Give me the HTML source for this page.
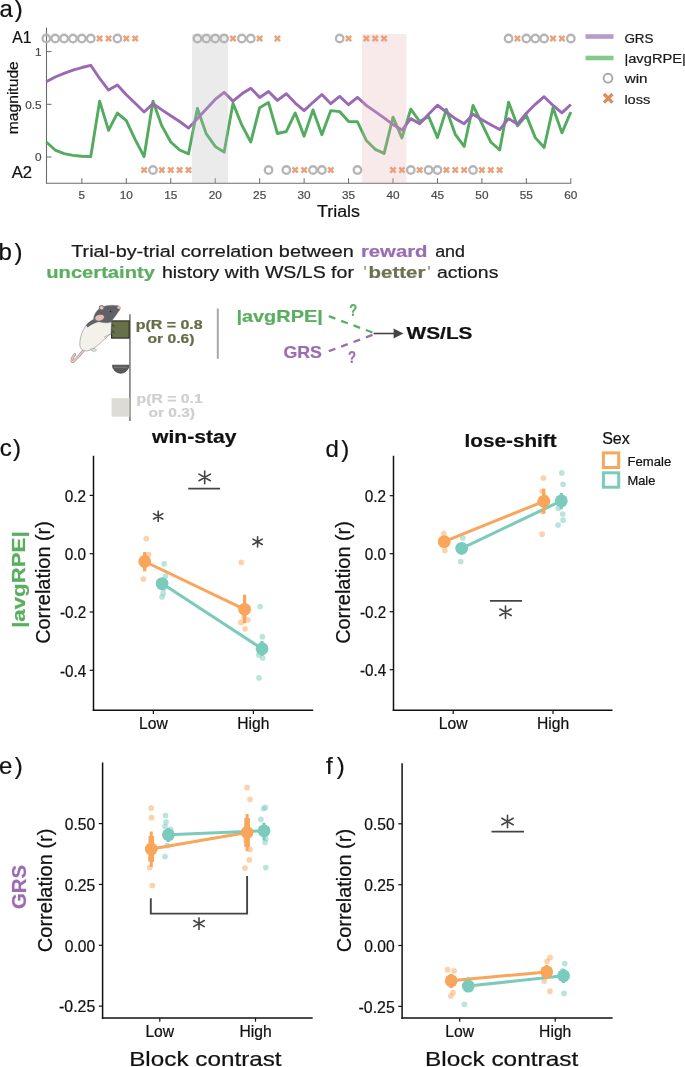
<!DOCTYPE html><html><head><meta charset="utf-8"><title>Figure</title><style>html,body{margin:0;padding:0;background:#fff;}svg{display:block;font-family:"Liberation Sans",sans-serif;filter:blur(0.4px);}</style></head><body>
<svg width="685" height="1067" viewBox="0 0 685 1067">
<rect x="0" y="0" width="685" height="1067" fill="#ffffff"/>
<line x1="46.5" y1="27.5" x2="46.5" y2="183.7" stroke="#6b6b6b" stroke-width="1.1"/>
<line x1="46" y1="183.2" x2="571.3" y2="183.2" stroke="#6b6b6b" stroke-width="1.1"/>
<line x1="46.5" y1="51.6" x2="51.5" y2="51.6" stroke="#6b6b6b" stroke-width="1"/>
<text x="41.6" y="56" font-size="11.8" fill="#4a4a4a" text-anchor="end" stroke="#4a4a4a" stroke-width="0.22">1</text>
<line x1="46.5" y1="104.3" x2="51.5" y2="104.3" stroke="#6b6b6b" stroke-width="1"/>
<text x="41.6" y="108.7" font-size="11.8" fill="#4a4a4a" text-anchor="end" stroke="#4a4a4a" stroke-width="0.22">0.5</text>
<line x1="46.5" y1="157" x2="51.5" y2="157" stroke="#6b6b6b" stroke-width="1"/>
<text x="41.6" y="161.4" font-size="11.8" fill="#4a4a4a" text-anchor="end" stroke="#4a4a4a" stroke-width="0.22">0</text>
<line x1="81.86" y1="183.2" x2="81.86" y2="178.2" stroke="#6b6b6b" stroke-width="1"/>
<text x="81.86" y="199" font-size="11.8" fill="#4a4a4a" text-anchor="middle" stroke="#4a4a4a" stroke-width="0.22">5</text>
<line x1="126.31" y1="183.2" x2="126.31" y2="178.2" stroke="#6b6b6b" stroke-width="1"/>
<text x="126.31" y="199" font-size="11.8" fill="#4a4a4a" text-anchor="middle" stroke="#4a4a4a" stroke-width="0.22">10</text>
<line x1="170.76" y1="183.2" x2="170.76" y2="178.2" stroke="#6b6b6b" stroke-width="1"/>
<text x="170.76" y="199" font-size="11.8" fill="#4a4a4a" text-anchor="middle" stroke="#4a4a4a" stroke-width="0.22">15</text>
<line x1="215.21" y1="183.2" x2="215.21" y2="178.2" stroke="#6b6b6b" stroke-width="1"/>
<text x="215.21" y="199" font-size="11.8" fill="#4a4a4a" text-anchor="middle" stroke="#4a4a4a" stroke-width="0.22">20</text>
<line x1="259.66" y1="183.2" x2="259.66" y2="178.2" stroke="#6b6b6b" stroke-width="1"/>
<text x="259.66" y="199" font-size="11.8" fill="#4a4a4a" text-anchor="middle" stroke="#4a4a4a" stroke-width="0.22">25</text>
<line x1="304.11" y1="183.2" x2="304.11" y2="178.2" stroke="#6b6b6b" stroke-width="1"/>
<text x="304.11" y="199" font-size="11.8" fill="#4a4a4a" text-anchor="middle" stroke="#4a4a4a" stroke-width="0.22">30</text>
<line x1="348.56" y1="183.2" x2="348.56" y2="178.2" stroke="#6b6b6b" stroke-width="1"/>
<text x="348.56" y="199" font-size="11.8" fill="#4a4a4a" text-anchor="middle" stroke="#4a4a4a" stroke-width="0.22">35</text>
<line x1="393.01" y1="183.2" x2="393.01" y2="178.2" stroke="#6b6b6b" stroke-width="1"/>
<text x="393.01" y="199" font-size="11.8" fill="#4a4a4a" text-anchor="middle" stroke="#4a4a4a" stroke-width="0.22">40</text>
<line x1="437.46" y1="183.2" x2="437.46" y2="178.2" stroke="#6b6b6b" stroke-width="1"/>
<text x="437.46" y="199" font-size="11.8" fill="#4a4a4a" text-anchor="middle" stroke="#4a4a4a" stroke-width="0.22">45</text>
<line x1="481.91" y1="183.2" x2="481.91" y2="178.2" stroke="#6b6b6b" stroke-width="1"/>
<text x="481.91" y="199" font-size="11.8" fill="#4a4a4a" text-anchor="middle" stroke="#4a4a4a" stroke-width="0.22">50</text>
<line x1="526.36" y1="183.2" x2="526.36" y2="178.2" stroke="#6b6b6b" stroke-width="1"/>
<text x="526.36" y="199" font-size="11.8" fill="#4a4a4a" text-anchor="middle" stroke="#4a4a4a" stroke-width="0.22">55</text>
<line x1="570.81" y1="183.2" x2="570.81" y2="178.2" stroke="#6b6b6b" stroke-width="1"/>
<text x="570.81" y="199" font-size="11.8" fill="#4a4a4a" text-anchor="middle" stroke="#4a4a4a" stroke-width="0.22">60</text>
<polyline points="46.3,142.03 55.19,150.04 64.08,153.63 72.97,155.42 81.86,156.26 90.75,156.58 99.64,101.14 108.53,130.33 117.42,113.05 126.31,120.64 135.2,139.61 144.09,156.58 152.98,101.14 161.87,125.91 170.76,142.03 179.65,150.04 188.54,153.84 197.43,108.41 206.32,133.92 215.21,146.46 224.1,152.15 232.99,103.25 241.88,125.17 250.77,142.03 259.66,107.67 268.55,102.61 277.44,133.5 286.33,131.49 295.22,112.94 304.11,136.13 313,109.89 321.89,134.66 330.78,110.62 339.67,111.57 348.56,121.48 357.45,121.8 366.34,140.45 375.23,149.31 384.12,153.42 393.01,117.16 401.9,137.92 410.79,109.15 419.68,121.48 428.57,116.42 437.46,137.61 446.35,109.36 455.24,134.34 464.13,146.46 473.02,105.46 481.91,123.69 490.8,142.03 499.69,150.04 508.58,102.19 517.47,125.8 526.36,115.37 535.25,137.61 544.14,147.51 553.03,107.67 561.92,132.86 570.81,111.99" fill="none" stroke="#52ab5e" stroke-width="2.9" stroke-linejoin="round"/>
<polyline points="46.3,81.85 55.19,77 64.08,73.42 72.97,70.15 81.86,67.52 90.75,65.3 99.64,78.48 108.53,90.07 117.42,85.01 126.31,94.81 135.2,103.25 144.09,111.99 152.98,103.67 161.87,109.89 170.76,115.68 179.65,121.48 188.54,128.12 197.43,118.53 206.32,109.04 215.21,99.45 224.1,92.28 232.99,101.14 241.88,93.76 250.77,88.17 259.66,97.45 268.55,91.55 277.44,100.4 286.33,93.76 295.22,103.04 304.11,110.62 313,102.3 321.89,94.5 330.78,103.67 339.67,96.4 348.56,104.72 357.45,97.45 366.34,105.35 375.23,111.68 384.12,117.9 393.01,124.54 401.9,130.02 410.79,118.63 419.68,123.69 428.57,114.21 437.46,105.25 446.35,111.99 455.24,118.63 464.13,123.69 473.02,114.21 481.91,119.79 490.8,124.75 499.69,129.6 508.58,118.63 517.47,124.01 526.36,113.26 535.25,104.3 544.14,96.71 553.03,105.46 561.92,112.84 570.81,104.51" fill="none" stroke="#9a69b4" stroke-width="2.9" stroke-linejoin="round"/>
<rect x="192" y="34" width="36" height="149.2" fill="rgba(185,185,185,0.286)"/>
<rect x="361.9" y="34" width="44.45" height="149.2" fill="rgba(230,176,183,0.28)"/>
<circle cx="46.3" cy="38.5" r="3.75" fill="none" stroke="#b5b5b5" stroke-width="2.3"/>
<circle cx="55.19" cy="38.5" r="3.75" fill="none" stroke="#b5b5b5" stroke-width="2.3"/>
<circle cx="64.08" cy="38.5" r="3.75" fill="none" stroke="#b5b5b5" stroke-width="2.3"/>
<circle cx="72.97" cy="38.5" r="3.75" fill="none" stroke="#b5b5b5" stroke-width="2.3"/>
<circle cx="81.86" cy="38.5" r="3.75" fill="none" stroke="#b5b5b5" stroke-width="2.3"/>
<circle cx="90.75" cy="38.5" r="3.75" fill="none" stroke="#b5b5b5" stroke-width="2.3"/>
<path d="M96.99 35.85L102.29 41.15M96.99 41.15L102.29 35.85" stroke="#e8a27c" stroke-width="2.4" fill="none"/>
<path d="M105.88 35.85L111.18 41.15M105.88 41.15L111.18 35.85" stroke="#e8a27c" stroke-width="2.4" fill="none"/>
<circle cx="117.42" cy="38.5" r="3.75" fill="none" stroke="#b5b5b5" stroke-width="2.3"/>
<path d="M123.66 35.85L128.96 41.15M123.66 41.15L128.96 35.85" stroke="#e8a27c" stroke-width="2.4" fill="none"/>
<path d="M132.55 35.85L137.85 41.15M132.55 41.15L137.85 35.85" stroke="#e8a27c" stroke-width="2.4" fill="none"/>
<path d="M141.44 167.35L146.74 172.65M141.44 172.65L146.74 167.35" stroke="#e8a27c" stroke-width="2.4" fill="none"/>
<circle cx="152.98" cy="170" r="3.75" fill="none" stroke="#b5b5b5" stroke-width="2.3"/>
<path d="M159.22 167.35L164.52 172.65M159.22 172.65L164.52 167.35" stroke="#e8a27c" stroke-width="2.4" fill="none"/>
<path d="M168.11 167.35L173.41 172.65M168.11 172.65L173.41 167.35" stroke="#e8a27c" stroke-width="2.4" fill="none"/>
<path d="M177 167.35L182.3 172.65M177 172.65L182.3 167.35" stroke="#e8a27c" stroke-width="2.4" fill="none"/>
<path d="M185.89 167.35L191.19 172.65M185.89 172.65L191.19 167.35" stroke="#e8a27c" stroke-width="2.4" fill="none"/>
<circle cx="197.43" cy="38.5" r="3.75" fill="none" stroke="#b5b5b5" stroke-width="2.3"/>
<circle cx="206.32" cy="38.5" r="3.75" fill="none" stroke="#b5b5b5" stroke-width="2.3"/>
<circle cx="215.21" cy="38.5" r="3.75" fill="none" stroke="#b5b5b5" stroke-width="2.3"/>
<circle cx="224.1" cy="38.5" r="3.75" fill="none" stroke="#b5b5b5" stroke-width="2.3"/>
<path d="M230.34 35.85L235.64 41.15M230.34 41.15L235.64 35.85" stroke="#e8a27c" stroke-width="2.4" fill="none"/>
<circle cx="241.88" cy="38.5" r="3.75" fill="none" stroke="#b5b5b5" stroke-width="2.3"/>
<circle cx="250.77" cy="38.5" r="3.75" fill="none" stroke="#b5b5b5" stroke-width="2.3"/>
<path d="M257.01 35.85L262.31 41.15M257.01 41.15L262.31 35.85" stroke="#e8a27c" stroke-width="2.4" fill="none"/>
<circle cx="268.55" cy="170" r="3.75" fill="none" stroke="#b5b5b5" stroke-width="2.3"/>
<path d="M274.79 35.85L280.09 41.15M274.79 41.15L280.09 35.85" stroke="#e8a27c" stroke-width="2.4" fill="none"/>
<circle cx="286.33" cy="170" r="3.75" fill="none" stroke="#b5b5b5" stroke-width="2.3"/>
<path d="M292.57 167.35L297.87 172.65M292.57 172.65L297.87 167.35" stroke="#e8a27c" stroke-width="2.4" fill="none"/>
<path d="M301.46 167.35L306.76 172.65M301.46 172.65L306.76 167.35" stroke="#e8a27c" stroke-width="2.4" fill="none"/>
<circle cx="313" cy="170" r="3.75" fill="none" stroke="#b5b5b5" stroke-width="2.3"/>
<circle cx="321.89" cy="170" r="3.75" fill="none" stroke="#b5b5b5" stroke-width="2.3"/>
<path d="M328.13 167.35L333.43 172.65M328.13 172.65L333.43 167.35" stroke="#e8a27c" stroke-width="2.4" fill="none"/>
<circle cx="339.67" cy="38.5" r="3.75" fill="none" stroke="#b5b5b5" stroke-width="2.3"/>
<path d="M345.91 35.85L351.21 41.15M345.91 41.15L351.21 35.85" stroke="#e8a27c" stroke-width="2.4" fill="none"/>
<circle cx="357.45" cy="170" r="3.75" fill="none" stroke="#b5b5b5" stroke-width="2.3"/>
<path d="M363.69 35.85L368.99 41.15M363.69 41.15L368.99 35.85" stroke="#e8a27c" stroke-width="2.4" fill="none"/>
<path d="M372.58 35.85L377.88 41.15M372.58 41.15L377.88 35.85" stroke="#e8a27c" stroke-width="2.4" fill="none"/>
<path d="M381.47 35.85L386.77 41.15M381.47 41.15L386.77 35.85" stroke="#e8a27c" stroke-width="2.4" fill="none"/>
<path d="M390.36 167.35L395.66 172.65M390.36 172.65L395.66 167.35" stroke="#e8a27c" stroke-width="2.4" fill="none"/>
<path d="M399.25 167.35L404.55 172.65M399.25 172.65L404.55 167.35" stroke="#e8a27c" stroke-width="2.4" fill="none"/>
<circle cx="410.79" cy="170" r="3.75" fill="none" stroke="#b5b5b5" stroke-width="2.3"/>
<path d="M417.03 167.35L422.33 172.65M417.03 172.65L422.33 167.35" stroke="#e8a27c" stroke-width="2.4" fill="none"/>
<circle cx="428.57" cy="170" r="3.75" fill="none" stroke="#b5b5b5" stroke-width="2.3"/>
<circle cx="437.46" cy="170" r="3.75" fill="none" stroke="#b5b5b5" stroke-width="2.3"/>
<path d="M443.7 167.35L449 172.65M443.7 172.65L449 167.35" stroke="#e8a27c" stroke-width="2.4" fill="none"/>
<path d="M452.59 167.35L457.89 172.65M452.59 172.65L457.89 167.35" stroke="#e8a27c" stroke-width="2.4" fill="none"/>
<path d="M461.48 167.35L466.78 172.65M461.48 172.65L466.78 167.35" stroke="#e8a27c" stroke-width="2.4" fill="none"/>
<circle cx="473.02" cy="170" r="3.75" fill="none" stroke="#b5b5b5" stroke-width="2.3"/>
<path d="M479.26 167.35L484.56 172.65M479.26 172.65L484.56 167.35" stroke="#e8a27c" stroke-width="2.4" fill="none"/>
<path d="M488.15 167.35L493.45 172.65M488.15 172.65L493.45 167.35" stroke="#e8a27c" stroke-width="2.4" fill="none"/>
<path d="M497.04 167.35L502.34 172.65M497.04 172.65L502.34 167.35" stroke="#e8a27c" stroke-width="2.4" fill="none"/>
<circle cx="508.58" cy="38.5" r="3.75" fill="none" stroke="#b5b5b5" stroke-width="2.3"/>
<path d="M514.82 35.85L520.12 41.15M514.82 41.15L520.12 35.85" stroke="#e8a27c" stroke-width="2.4" fill="none"/>
<circle cx="526.36" cy="38.5" r="3.75" fill="none" stroke="#b5b5b5" stroke-width="2.3"/>
<circle cx="535.25" cy="38.5" r="3.75" fill="none" stroke="#b5b5b5" stroke-width="2.3"/>
<circle cx="544.14" cy="38.5" r="3.75" fill="none" stroke="#b5b5b5" stroke-width="2.3"/>
<path d="M550.38 35.85L555.68 41.15M550.38 41.15L555.68 35.85" stroke="#e8a27c" stroke-width="2.4" fill="none"/>
<path d="M559.27 35.85L564.57 41.15M559.27 41.15L564.57 35.85" stroke="#e8a27c" stroke-width="2.4" fill="none"/>
<circle cx="570.81" cy="38.5" r="3.75" fill="none" stroke="#b5b5b5" stroke-width="2.3"/>
<text x="-0.6" y="17.2" font-size="24" fill="#111" stroke="#111" stroke-width="0.22">a</text>
<text x="14.75" y="17.2" font-size="24" fill="#111" stroke="#111" stroke-width="0.22">)</text>
<text x="12.3" y="42.9" font-size="17" fill="#111" textLength="19.2" lengthAdjust="spacingAndGlyphs" stroke="#111" stroke-width="0.22">A1</text>
<text x="11.7" y="177.6" font-size="17" fill="#111" textLength="20.4" lengthAdjust="spacingAndGlyphs" stroke="#111" stroke-width="0.22">A2</text>
<text transform="translate(18.3 97.7) rotate(-90)" x="0" y="0" font-size="15.5" fill="#111" text-anchor="middle" textLength="73" lengthAdjust="spacingAndGlyphs" stroke="#111" stroke-width="0.22">magnitude</text>
<text x="317" y="217.2" font-size="16" fill="#111" textLength="43" lengthAdjust="spacingAndGlyphs" stroke="#111" stroke-width="0.22">Trials</text>
<rect x="585.5" y="34.2" width="28" height="4.6" fill="#b89bc9"/>
<rect x="585.5" y="55.7" width="28" height="4.6" fill="#86c98c"/>
<text x="624.4" y="42.9" font-size="13.6" fill="#1a1a1a" textLength="29.2" lengthAdjust="spacingAndGlyphs" stroke="#1a1a1a" stroke-width="0.22">GRS</text>
<text x="624.4" y="62.8" font-size="13.6" fill="#1a1a1a" textLength="61.5" lengthAdjust="spacingAndGlyphs" stroke="#1a1a1a" stroke-width="0.22">|avgRPE|</text>
<text x="624.7" y="82.7" font-size="13.6" fill="#1a1a1a" textLength="22.8" lengthAdjust="spacingAndGlyphs" stroke="#1a1a1a" stroke-width="0.22">win</text>
<text x="624.4" y="103.7" font-size="13.6" fill="#1a1a1a" textLength="25.9" lengthAdjust="spacingAndGlyphs" stroke="#1a1a1a" stroke-width="0.22">loss</text>
<circle cx="608" cy="78.2" r="4.4" fill="none" stroke="#a8a8a8" stroke-width="1.9"/>
<path d="M603.9 94L612.5 102.6M603.9 102.6L612.5 94" stroke="#dd8c5c" stroke-width="3.2" fill="none"/>
<text x="-1.5" y="259.6" font-size="24" fill="#111" stroke="#111" stroke-width="0.22">b</text>
<text x="14.55" y="259.6" font-size="24" fill="#111" stroke="#111" stroke-width="0.22">)</text>
<text x="71.2" y="256.6" font-size="16.8" fill="#1a1a1a" textLength="282.7" lengthAdjust="spacingAndGlyphs" stroke="#1a1a1a" stroke-width="0.22">Trial-by-trial correlation between</text>
<text x="360.9" y="256.6" font-size="16.8" fill="#9b6cb3" font-weight="bold" textLength="66.6" lengthAdjust="spacingAndGlyphs" stroke="#9b6cb3" stroke-width="0.22">reward</text>
<text x="435.2" y="256.6" font-size="16.8" fill="#1a1a1a" textLength="29.8" lengthAdjust="spacingAndGlyphs" stroke="#1a1a1a" stroke-width="0.22">and</text>
<text x="46.3" y="278" font-size="16.8" fill="#5aae5f" font-weight="bold" textLength="108.6" lengthAdjust="spacingAndGlyphs" stroke="#5aae5f" stroke-width="0.22">uncertainty</text>
<text x="161.9" y="278" font-size="16.8" fill="#1a1a1a" textLength="192" lengthAdjust="spacingAndGlyphs" stroke="#1a1a1a" stroke-width="0.22">history with WS/LS for</text>
<text x="363.6" y="278" font-size="16.8" fill="#8c9070" stroke="#8c9070" stroke-width="0.22">'</text>
<text x="368.6" y="278" font-size="16.8" fill="#6b7250" font-weight="bold" textLength="56.8" lengthAdjust="spacingAndGlyphs" stroke="#6b7250" stroke-width="0.22">better</text>
<text x="427.6" y="278" font-size="16.8" fill="#8c9070" stroke="#8c9070" stroke-width="0.22">'</text>
<text x="437" y="278" font-size="16.8" fill="#1a1a1a" textLength="61.3" lengthAdjust="spacingAndGlyphs" stroke="#1a1a1a" stroke-width="0.22">actions</text>
<line x1="129.9" y1="314.3" x2="129.9" y2="421.1" stroke="#8a8a8a" stroke-width="1.8"/>
<rect x="111.6" y="320.9" width="17.6" height="17.2" fill="#667049" stroke="#2a2a20" stroke-width="1.1"/>
<path d="M112.5 365.2 L128.9 365.2 A8.2 8 0 0 1 112.5 365.2 Z" fill="#5a5a5a" stroke="#3c3c3c" stroke-width="0.8"/>
<line x1="114" y1="367.3" x2="127.5" y2="367.3" stroke="#8a8a8a" stroke-width="0.7"/>
<rect x="111.8" y="398.2" width="17.3" height="18.4" fill="#dcdcd5" stroke="#e6e6e0" stroke-width="0.6"/>
<g stroke="#7d7d7d" stroke-width="0.55" stroke-linejoin="round">
<path d="M83.6 350.2 C80.5 354.5 77 358.5 73.6 361.2 C72.2 362.3 71.2 361.2 72 359.2 C72.6 357.4 73.6 355.6 74.8 354.3" fill="none" stroke="#9a8884" stroke-width="2.6" stroke-linecap="round"/>
<path d="M83.6 350.2 C80.5 354.5 77 358.5 73.6 361.2 C72.2 362.3 71.2 361.2 72 359.2 C72.6 357.4 73.6 355.6 74.8 354.3" fill="none" stroke="#e9c8c0" stroke-width="1.5" stroke-linecap="round"/>
<path d="M94.5 319.2 C89.5 321 86 324.5 83.5 329.5 C81 334.5 79.6 340 79.8 345 C80.2 349.5 83.5 351.5 87.5 350.8 C91.5 350 95.5 347.5 99 344.2 C103 340.5 107.5 336.5 111 333.5 L111.5 322 Z" fill="#f3f1ea"/>
<path d="M86 325.5 C88.5 322.2 92 319.8 96 318.6 L101 321.4 C96.5 322.3 91.5 323.8 87.6 327.6 Z" fill="#62646a" stroke="none"/>
<path d="M90.5 349.3 C92 351.5 94.5 352 96.5 350.4 L95 348.6 Z" fill="#f3f1ea"/>
<path d="M93.6 318.8 C94.2 312.5 99 307.5 105.5 306 C110 305 114.5 305.2 118.5 305.8 C120.6 306.5 120.8 308.8 119.2 310.6 C117.3 313.5 114.8 317 112.5 320 C111.6 321.3 110.5 322.4 109 322.6 C104 323.2 98.5 322.5 93.6 318.8 Z" fill="#5f6166"/>
<ellipse cx="101.6" cy="307.8" rx="2.5" ry="2.3" fill="#e7bcb0" stroke="#5f6166" stroke-width="0.9"/>
<ellipse cx="99.6" cy="317.7" rx="5.0" ry="3.4" transform="rotate(-15 99.6 317.7)" fill="#e7bcb0" stroke="#5f6166" stroke-width="0.9"/>
<ellipse cx="118.9" cy="307.6" rx="1.7" ry="1.5" fill="#e7bcb0" stroke="none"/>
<circle cx="110.5" cy="311.6" r="0.75" fill="#1a1a1a" stroke="none"/>
<path d="M104 337.5 C107 335.5 109.5 334.3 111.6 333.8" fill="none"/>
</g>
<path d="M112.2 325.2 q2 -0.5 2.2 1.6 M112.2 331.5 q2 -0.5 2.2 1.6" stroke="#2a2a2a" stroke-width="0.7" fill="none"/>
<text x="135.7" y="328.5" font-size="12.6" fill="#676b47" font-weight="bold" textLength="67" lengthAdjust="spacingAndGlyphs" stroke="#676b47" stroke-width="0.22">p(R = 0.8</text>
<text x="147.5" y="343.3" font-size="12.6" fill="#676b47" font-weight="bold" textLength="47" lengthAdjust="spacingAndGlyphs" stroke="#676b47" stroke-width="0.22">or 0.6)</text>
<text x="136.6" y="403.4" font-size="12.6" fill="#cfcfcf" font-weight="bold" textLength="66.1" lengthAdjust="spacingAndGlyphs" stroke="#cfcfcf" stroke-width="0.22">p(R = 0.1</text>
<text x="148.5" y="416.7" font-size="12.6" fill="#cfcfcf" font-weight="bold" textLength="46.5" lengthAdjust="spacingAndGlyphs" stroke="#cfcfcf" stroke-width="0.22">or 0.3)</text>
<line x1="217.8" y1="308.5" x2="217.8" y2="358.8" stroke="#a9a9a9" stroke-width="2"/>
<text x="236.4" y="321.6" font-size="17" fill="#5aae5f" font-weight="bold" textLength="86.4" lengthAdjust="spacingAndGlyphs" stroke="#5aae5f" stroke-width="0.22">|avgRPE|</text>
<text x="283.4" y="358.4" font-size="17" fill="#9b6cb3" font-weight="bold" textLength="38.6" lengthAdjust="spacingAndGlyphs" stroke="#9b6cb3" stroke-width="0.22">GRS</text>
<line x1="328.8" y1="316.2" x2="373.4" y2="332.8" stroke="#5aae5f" stroke-width="2.3" stroke-dasharray="7 6.2"/>
<line x1="328.8" y1="351.2" x2="373.4" y2="334.6" stroke="#9b6cb3" stroke-width="2.3" stroke-dasharray="7 6.2"/>
<text x="349.3" y="316.2" font-size="16" fill="#5aae5f" font-weight="bold" textLength="7.9" lengthAdjust="spacingAndGlyphs" stroke="#5aae5f" stroke-width="0.22">?</text>
<text x="348" y="362.6" font-size="16" fill="#9b6cb3" font-weight="bold" textLength="8" lengthAdjust="spacingAndGlyphs" stroke="#9b6cb3" stroke-width="0.22">?</text>
<line x1="373.6" y1="333.5" x2="395" y2="333.5" stroke="#444" stroke-width="1.6"/>
<path d="M393.6 328.4 L403.4 333.5 L393.6 338.6 Z" fill="#444"/>
<text x="406.6" y="338.6" font-size="17" fill="#111" font-weight="bold" textLength="65.9" lengthAdjust="spacingAndGlyphs" stroke="#111" stroke-width="0.22">WS/LS</text>
<text x="-0.3" y="456.3" font-size="24" fill="#111" stroke="#111" stroke-width="0.22">c</text>
<text x="12.95" y="456.3" font-size="24" fill="#111" stroke="#111" stroke-width="0.22">)</text>
<text transform="translate(24.7 579.6) rotate(-90)" x="0" y="0" font-size="18.3" fill="#5aae5f" font-weight="bold" text-anchor="middle" textLength="96.5" lengthAdjust="spacingAndGlyphs" stroke="#5aae5f" stroke-width="0.22">|avgRPE|</text>
<text transform="translate(50.4 582.5) rotate(-90)" x="0" y="0" font-size="19.5" fill="#111" text-anchor="middle" textLength="122.7" lengthAdjust="spacingAndGlyphs" stroke="#111" stroke-width="0.22">Correlation (r)</text>
<text x="152" y="442.5" font-size="18" fill="#111" font-weight="bold" textLength="84.4" lengthAdjust="spacingAndGlyphs" stroke="#111" stroke-width="0.22">win-stay</text>
<line x1="93.5" y1="455.8" x2="93.5" y2="711.05" stroke="#111111" stroke-width="1.5"/>
<line x1="92.75" y1="710.3" x2="313.2" y2="710.3" stroke="#111111" stroke-width="1.5"/>
<line x1="89.7" y1="495.4" x2="93.5" y2="495.4" stroke="#111111" stroke-width="1.2"/>
<text x="86.1" y="501.7" font-size="16" fill="#111" text-anchor="end" textLength="21.3" lengthAdjust="spacingAndGlyphs" stroke="#111" stroke-width="0.22">0.2</text>
<line x1="89.7" y1="553.7" x2="93.5" y2="553.7" stroke="#111111" stroke-width="1.2"/>
<text x="86.1" y="560" font-size="16" fill="#111" text-anchor="end" textLength="21.3" lengthAdjust="spacingAndGlyphs" stroke="#111" stroke-width="0.22">0.0</text>
<line x1="89.7" y1="612" x2="93.5" y2="612" stroke="#111111" stroke-width="1.2"/>
<text x="86.1" y="618.3" font-size="16" fill="#111" text-anchor="end" textLength="26.2" lengthAdjust="spacingAndGlyphs" stroke="#111" stroke-width="0.22">-0.2</text>
<line x1="89.7" y1="670.3" x2="93.5" y2="670.3" stroke="#111111" stroke-width="1.2"/>
<text x="86.1" y="676.6" font-size="16" fill="#111" text-anchor="end" textLength="26.2" lengthAdjust="spacingAndGlyphs" stroke="#111" stroke-width="0.22">-0.4</text>
<line x1="153.4" y1="710.3" x2="153.4" y2="714" stroke="#111111" stroke-width="1.2"/>
<text x="153.4" y="729.2" font-size="16" fill="#111" text-anchor="middle" textLength="28.8" lengthAdjust="spacingAndGlyphs" stroke="#111" stroke-width="0.22">Low</text>
<line x1="253.4" y1="710.3" x2="253.4" y2="714" stroke="#111111" stroke-width="1.2"/>
<text x="253.4" y="729.2" font-size="16" fill="#111" text-anchor="middle" textLength="32.2" lengthAdjust="spacingAndGlyphs" stroke="#111" stroke-width="0.22">High</text>
<circle cx="146.3" cy="538.7" r="2.85" fill="rgba(249,165,90,0.5)"/>
<circle cx="148.6" cy="554.5" r="2.85" fill="rgba(249,165,90,0.5)"/>
<circle cx="143.4" cy="579" r="2.85" fill="rgba(249,165,90,0.5)"/>
<circle cx="144.5" cy="566" r="2.85" fill="rgba(249,165,90,0.5)"/>
<circle cx="145.5" cy="557.5" r="2.85" fill="rgba(249,165,90,0.5)"/>
<circle cx="164.1" cy="563.8" r="2.85" fill="rgba(123,203,188,0.52)"/>
<circle cx="165.5" cy="576" r="2.85" fill="rgba(123,203,188,0.52)"/>
<circle cx="163.2" cy="593.6" r="2.85" fill="rgba(123,203,188,0.52)"/>
<circle cx="162" cy="597" r="2.85" fill="rgba(123,203,188,0.52)"/>
<circle cx="163.5" cy="588.5" r="2.85" fill="rgba(123,203,188,0.52)"/>
<circle cx="241.3" cy="562.4" r="2.85" fill="rgba(249,165,90,0.5)"/>
<circle cx="241" cy="622.4" r="2.85" fill="rgba(249,165,90,0.5)"/>
<circle cx="247.8" cy="620" r="2.85" fill="rgba(249,165,90,0.5)"/>
<circle cx="245" cy="628.8" r="2.85" fill="rgba(249,165,90,0.5)"/>
<circle cx="244" cy="617" r="2.85" fill="rgba(249,165,90,0.5)"/>
<circle cx="260.2" cy="606.6" r="2.85" fill="rgba(123,203,188,0.52)"/>
<circle cx="262.4" cy="636.7" r="2.85" fill="rgba(123,203,188,0.52)"/>
<circle cx="259" cy="677.9" r="2.85" fill="rgba(123,203,188,0.52)"/>
<circle cx="258.8" cy="655" r="2.85" fill="rgba(123,203,188,0.52)"/>
<circle cx="262.6" cy="658" r="2.85" fill="rgba(123,203,188,0.52)"/>
<circle cx="261" cy="645.5" r="2.85" fill="rgba(123,203,188,0.52)"/>
<line x1="144.7" y1="561.5" x2="244.6" y2="609.3" stroke="#f9a55a" stroke-width="3"/>
<line x1="162.1" y1="583.6" x2="262" y2="648.7" stroke="#7bcbbc" stroke-width="3"/>
<line x1="144.7" y1="552" x2="144.7" y2="571.4" stroke="#f9a55a" stroke-width="3.2"/>
<line x1="162.1" y1="578" x2="162.1" y2="590" stroke="#7bcbbc" stroke-width="3.2"/>
<line x1="244.6" y1="594.7" x2="244.6" y2="623.3" stroke="#f9a55a" stroke-width="3.2"/>
<line x1="262" y1="641" x2="262" y2="656" stroke="#7bcbbc" stroke-width="3.2"/>
<circle cx="144.7" cy="561.5" r="6.4" fill="#f9a55a"/>
<circle cx="162.1" cy="583.6" r="6.4" fill="#7bcbbc"/>
<circle cx="244.6" cy="609.3" r="6.4" fill="#f9a55a"/>
<circle cx="262" cy="648.7" r="6.4" fill="#7bcbbc"/>
<path d="M204.7 471.1L204.7 483.7M198.97 474.09L210.43 480.71M198.97 480.71L210.43 474.09" stroke="#444" stroke-width="1.6" stroke-linecap="round" fill="none"/>
<line x1="188.2" y1="488.6" x2="220.1" y2="488.6" stroke="#444" stroke-width="1.7"/>
<path d="M158.2 511.2L158.2 521.4M153.56 513.62L162.84 518.98M153.56 518.98L162.84 513.62" stroke="#444" stroke-width="1.6" stroke-linecap="round" fill="none"/>
<path d="M257.6 536.7L257.6 546.9M252.96 539.12L262.24 544.48M252.96 544.48L262.24 539.12" stroke="#444" stroke-width="1.6" stroke-linecap="round" fill="none"/>
<text x="325.4" y="456.5" font-size="24" fill="#111" stroke="#111" stroke-width="0.22">d</text>
<text x="341.35" y="456.5" font-size="24" fill="#111" stroke="#111" stroke-width="0.22">)</text>
<text transform="translate(349.9 582.5) rotate(-90)" x="0" y="0" font-size="19.5" fill="#111" text-anchor="middle" textLength="122.7" lengthAdjust="spacingAndGlyphs" stroke="#111" stroke-width="0.22">Correlation (r)</text>
<text x="464.6" y="446.9" font-size="18" fill="#111" font-weight="bold" textLength="92" lengthAdjust="spacingAndGlyphs" stroke="#111" stroke-width="0.22">lose-shift</text>
<line x1="393.5" y1="455.8" x2="393.5" y2="711.05" stroke="#111111" stroke-width="1.5"/>
<line x1="392.75" y1="710.3" x2="612.5" y2="710.3" stroke="#111111" stroke-width="1.5"/>
<line x1="389.7" y1="495.7" x2="393.5" y2="495.7" stroke="#111111" stroke-width="1.2"/>
<text x="386.1" y="502" font-size="16" fill="#111" text-anchor="end" textLength="21.3" lengthAdjust="spacingAndGlyphs" stroke="#111" stroke-width="0.22">0.2</text>
<line x1="389.7" y1="553.7" x2="393.5" y2="553.7" stroke="#111111" stroke-width="1.2"/>
<text x="386.1" y="560" font-size="16" fill="#111" text-anchor="end" textLength="21.3" lengthAdjust="spacingAndGlyphs" stroke="#111" stroke-width="0.22">0.0</text>
<line x1="389.7" y1="611.7" x2="393.5" y2="611.7" stroke="#111111" stroke-width="1.2"/>
<text x="386.1" y="618" font-size="16" fill="#111" text-anchor="end" textLength="26.2" lengthAdjust="spacingAndGlyphs" stroke="#111" stroke-width="0.22">-0.2</text>
<line x1="389.7" y1="669.7" x2="393.5" y2="669.7" stroke="#111111" stroke-width="1.2"/>
<text x="386.1" y="676" font-size="16" fill="#111" text-anchor="end" textLength="26.2" lengthAdjust="spacingAndGlyphs" stroke="#111" stroke-width="0.22">-0.4</text>
<line x1="453.2" y1="710.3" x2="453.2" y2="714" stroke="#111111" stroke-width="1.2"/>
<text x="453.2" y="729.2" font-size="16" fill="#111" text-anchor="middle" textLength="28.8" lengthAdjust="spacingAndGlyphs" stroke="#111" stroke-width="0.22">Low</text>
<line x1="553" y1="710.3" x2="553" y2="714" stroke="#111111" stroke-width="1.2"/>
<text x="553" y="729.2" font-size="16" fill="#111" text-anchor="middle" textLength="32.2" lengthAdjust="spacingAndGlyphs" stroke="#111" stroke-width="0.22">High</text>
<circle cx="443.8" cy="533.6" r="2.85" fill="rgba(249,165,90,0.5)"/>
<circle cx="444.9" cy="550.5" r="2.85" fill="rgba(249,165,90,0.5)"/>
<circle cx="445" cy="545" r="2.85" fill="rgba(249,165,90,0.5)"/>
<circle cx="462.8" cy="538" r="2.85" fill="rgba(123,203,188,0.52)"/>
<circle cx="460.7" cy="561.5" r="2.85" fill="rgba(123,203,188,0.52)"/>
<circle cx="461.5" cy="552" r="2.85" fill="rgba(123,203,188,0.52)"/>
<circle cx="543.4" cy="478.1" r="2.85" fill="rgba(249,165,90,0.5)"/>
<circle cx="542.1" cy="491.3" r="2.85" fill="rgba(249,165,90,0.5)"/>
<circle cx="542.1" cy="534.2" r="2.85" fill="rgba(249,165,90,0.5)"/>
<circle cx="542.5" cy="511.4" r="2.85" fill="rgba(249,165,90,0.5)"/>
<circle cx="545.5" cy="497" r="2.85" fill="rgba(249,165,90,0.5)"/>
<circle cx="561.8" cy="472.9" r="2.85" fill="rgba(123,203,188,0.52)"/>
<circle cx="563.1" cy="484.3" r="2.85" fill="rgba(123,203,188,0.52)"/>
<circle cx="558.3" cy="508.3" r="2.85" fill="rgba(123,203,188,0.52)"/>
<circle cx="562.7" cy="514" r="2.85" fill="rgba(123,203,188,0.52)"/>
<circle cx="563.1" cy="520.2" r="2.85" fill="rgba(123,203,188,0.52)"/>
<circle cx="558.1" cy="525" r="2.85" fill="rgba(123,203,188,0.52)"/>
<line x1="444.2" y1="541.7" x2="543.8" y2="501.3" stroke="#f9a55a" stroke-width="3"/>
<line x1="461.7" y1="548.3" x2="561.3" y2="500.9" stroke="#7bcbbc" stroke-width="3"/>
<line x1="444.2" y1="536.5" x2="444.2" y2="547" stroke="#f9a55a" stroke-width="3.2"/>
<line x1="461.7" y1="543" x2="461.7" y2="553.5" stroke="#7bcbbc" stroke-width="3.2"/>
<line x1="543.8" y1="488.6" x2="543.8" y2="513.6" stroke="#f9a55a" stroke-width="3.2"/>
<line x1="561.3" y1="493" x2="561.3" y2="509.2" stroke="#7bcbbc" stroke-width="3.2"/>
<circle cx="444.2" cy="541.7" r="6.4" fill="#f9a55a"/>
<circle cx="461.7" cy="548.3" r="6.4" fill="#7bcbbc"/>
<circle cx="543.8" cy="501.3" r="6.4" fill="#f9a55a"/>
<circle cx="561.3" cy="500.9" r="6.4" fill="#7bcbbc"/>
<line x1="489.9" y1="600.9" x2="522" y2="600.9" stroke="#444" stroke-width="1.7"/>
<path d="M505.5 606.1L505.5 618.5M499.86 609.04L511.14 615.55M499.86 615.55L511.14 609.04" stroke="#444" stroke-width="1.6" stroke-linecap="round" fill="none"/>
<text x="602.2" y="443.8" font-size="15.8" fill="#111" textLength="27.6" lengthAdjust="spacingAndGlyphs" stroke="#111" stroke-width="0.22">Sex</text>
<rect x="603.4" y="452.9" width="15.3" height="14.6" fill="#fff" stroke="#f9a55a" stroke-width="3"/>
<rect x="603.4" y="472.8" width="15.3" height="14.4" fill="#fff" stroke="#7bcbbc" stroke-width="3"/>
<text x="627.5" y="466" font-size="13" fill="#111" textLength="43.7" lengthAdjust="spacingAndGlyphs" stroke="#111" stroke-width="0.22">Female</text>
<text x="627.5" y="485.1" font-size="13" fill="#111" textLength="27.9" lengthAdjust="spacingAndGlyphs" stroke="#111" stroke-width="0.22">Male</text>
<text x="-1" y="773.5" font-size="24" fill="#111" stroke="#111" stroke-width="0.22">e</text>
<text x="14.75" y="773.5" font-size="24" fill="#111" stroke="#111" stroke-width="0.22">)</text>
<text transform="translate(26.3 886.9) rotate(-90)" x="0" y="0" font-size="19.5" fill="#9b6cb3" font-weight="bold" text-anchor="middle" textLength="44.2" lengthAdjust="spacingAndGlyphs" stroke="#9b6cb3" stroke-width="0.22">GRS</text>
<text transform="translate(51.6 890.4) rotate(-90)" x="0" y="0" font-size="19.5" fill="#111" text-anchor="middle" textLength="123.7" lengthAdjust="spacingAndGlyphs" stroke="#111" stroke-width="0.22">Correlation (r)</text>
<line x1="102.6" y1="762.5" x2="102.6" y2="1018.75" stroke="#111111" stroke-width="1.5"/>
<line x1="101.85" y1="1018" x2="312.7" y2="1018" stroke="#111111" stroke-width="1.5"/>
<line x1="98.8" y1="823.6" x2="102.6" y2="823.6" stroke="#111111" stroke-width="1.2"/>
<text x="95.2" y="829.9" font-size="16" fill="#111" text-anchor="end" textLength="30.4" lengthAdjust="spacingAndGlyphs" stroke="#111" stroke-width="0.22">0.50</text>
<line x1="98.8" y1="884.45" x2="102.6" y2="884.45" stroke="#111111" stroke-width="1.2"/>
<text x="95.2" y="890.75" font-size="16" fill="#111" text-anchor="end" textLength="30.4" lengthAdjust="spacingAndGlyphs" stroke="#111" stroke-width="0.22">0.25</text>
<line x1="98.8" y1="945.3" x2="102.6" y2="945.3" stroke="#111111" stroke-width="1.2"/>
<text x="95.2" y="951.6" font-size="16" fill="#111" text-anchor="end" textLength="30.4" lengthAdjust="spacingAndGlyphs" stroke="#111" stroke-width="0.22">0.00</text>
<line x1="98.8" y1="1006.15" x2="102.6" y2="1006.15" stroke="#111111" stroke-width="1.2"/>
<text x="95.2" y="1012.45" font-size="16" fill="#111" text-anchor="end" textLength="36.1" lengthAdjust="spacingAndGlyphs" stroke="#111" stroke-width="0.22">-0.25</text>
<line x1="159.8" y1="1018" x2="159.8" y2="1021.7" stroke="#111111" stroke-width="1.2"/>
<text x="159.8" y="1036.9" font-size="16" fill="#111" text-anchor="middle" textLength="28.8" lengthAdjust="spacingAndGlyphs" stroke="#111" stroke-width="0.22">Low</text>
<line x1="255.5" y1="1018" x2="255.5" y2="1021.7" stroke="#111111" stroke-width="1.2"/>
<text x="255.5" y="1036.9" font-size="16" fill="#111" text-anchor="middle" textLength="32.2" lengthAdjust="spacingAndGlyphs" stroke="#111" stroke-width="0.22">High</text>
<text x="129.2" y="1066" font-size="21" fill="#111" textLength="152.4" lengthAdjust="spacingAndGlyphs" stroke="#111" stroke-width="0.22">Block contrast</text>
<circle cx="151.2" cy="808" r="2.85" fill="rgba(249,165,90,0.5)"/>
<circle cx="151.5" cy="817.7" r="2.85" fill="rgba(249,165,90,0.5)"/>
<circle cx="149.7" cy="867.6" r="2.85" fill="rgba(249,165,90,0.5)"/>
<circle cx="152.3" cy="885.5" r="2.85" fill="rgba(249,165,90,0.5)"/>
<circle cx="150.5" cy="858" r="2.85" fill="rgba(249,165,90,0.5)"/>
<circle cx="165.5" cy="815.5" r="2.85" fill="rgba(123,203,188,0.52)"/>
<circle cx="166.1" cy="822" r="2.85" fill="rgba(123,203,188,0.52)"/>
<circle cx="165" cy="826.4" r="2.85" fill="rgba(123,203,188,0.52)"/>
<circle cx="170.5" cy="829.3" r="2.85" fill="rgba(123,203,188,0.52)"/>
<circle cx="167.2" cy="845.7" r="2.85" fill="rgba(123,203,188,0.52)"/>
<circle cx="165" cy="856.6" r="2.85" fill="rgba(123,203,188,0.52)"/>
<circle cx="247.1" cy="787.7" r="2.85" fill="rgba(249,165,90,0.5)"/>
<circle cx="250" cy="799.3" r="2.85" fill="rgba(249,165,90,0.5)"/>
<circle cx="250" cy="849.6" r="2.85" fill="rgba(249,165,90,0.5)"/>
<circle cx="249.3" cy="859.9" r="2.85" fill="rgba(249,165,90,0.5)"/>
<circle cx="245" cy="868" r="2.85" fill="rgba(249,165,90,0.5)"/>
<circle cx="246" cy="840" r="2.85" fill="rgba(249,165,90,0.5)"/>
<circle cx="263.6" cy="808.5" r="2.85" fill="rgba(123,203,188,0.52)"/>
<circle cx="265.3" cy="807.4" r="2.85" fill="rgba(123,203,188,0.52)"/>
<circle cx="260.9" cy="819.4" r="2.85" fill="rgba(123,203,188,0.52)"/>
<circle cx="265.8" cy="838.7" r="2.85" fill="rgba(123,203,188,0.52)"/>
<circle cx="265.1" cy="842.4" r="2.85" fill="rgba(123,203,188,0.52)"/>
<circle cx="265.8" cy="867.6" r="2.85" fill="rgba(123,203,188,0.52)"/>
<line x1="151.3" y1="849" x2="247.1" y2="832.5" stroke="#f9a55a" stroke-width="3"/>
<line x1="168.4" y1="834.8" x2="264" y2="830.8" stroke="#7bcbbc" stroke-width="3"/>
<line x1="151.3" y1="831.5" x2="151.3" y2="867" stroke="#f9a55a" stroke-width="3"/>
<line x1="151.3" y1="836" x2="151.3" y2="862" stroke="#f9a55a" stroke-width="5.6"/>
<line x1="168.4" y1="828" x2="168.4" y2="842" stroke="#7bcbbc" stroke-width="3"/>
<line x1="247.1" y1="814" x2="247.1" y2="851.2" stroke="#f9a55a" stroke-width="3"/>
<line x1="247.1" y1="818" x2="247.1" y2="847" stroke="#f9a55a" stroke-width="5.6"/>
<line x1="264" y1="822.7" x2="264" y2="840.2" stroke="#7bcbbc" stroke-width="3"/>
<circle cx="151.3" cy="849" r="6.4" fill="#f9a55a"/>
<circle cx="168.4" cy="834.8" r="6.4" fill="#7bcbbc"/>
<circle cx="247.1" cy="832.5" r="6.4" fill="#f9a55a"/>
<circle cx="264" cy="830.8" r="6.4" fill="#7bcbbc"/>
<path d="M150.8 898.2 L150.8 913.6 L247.1 913.6 L247.1 875.9" fill="none" stroke="#444" stroke-width="1.9"/>
<path d="M199 917.8L199 929.4M193.73 920.56L204.27 926.64M193.73 926.64L204.27 920.56" stroke="#444" stroke-width="1.6" stroke-linecap="round" fill="none"/>
<text x="325.9" y="773.7" font-size="24" fill="#111" stroke="#111" stroke-width="0.22">f</text>
<text x="336.75" y="773.7" font-size="24" fill="#111" stroke="#111" stroke-width="0.22">)</text>
<text transform="translate(351 890.6) rotate(-90)" x="0" y="0" font-size="19.5" fill="#111" text-anchor="middle" textLength="123.3" lengthAdjust="spacingAndGlyphs" stroke="#111" stroke-width="0.22">Correlation (r)</text>
<line x1="402.1" y1="763.2" x2="402.1" y2="1018.75" stroke="#111111" stroke-width="1.5"/>
<line x1="401.35" y1="1018" x2="612.6" y2="1018" stroke="#111111" stroke-width="1.5"/>
<line x1="398.3" y1="823.8" x2="402.1" y2="823.8" stroke="#111111" stroke-width="1.2"/>
<text x="394.7" y="830.1" font-size="16" fill="#111" text-anchor="end" textLength="30.4" lengthAdjust="spacingAndGlyphs" stroke="#111" stroke-width="0.22">0.50</text>
<line x1="398.3" y1="884.65" x2="402.1" y2="884.65" stroke="#111111" stroke-width="1.2"/>
<text x="394.7" y="890.95" font-size="16" fill="#111" text-anchor="end" textLength="30.4" lengthAdjust="spacingAndGlyphs" stroke="#111" stroke-width="0.22">0.25</text>
<line x1="398.3" y1="945.5" x2="402.1" y2="945.5" stroke="#111111" stroke-width="1.2"/>
<text x="394.7" y="951.8" font-size="16" fill="#111" text-anchor="end" textLength="30.4" lengthAdjust="spacingAndGlyphs" stroke="#111" stroke-width="0.22">0.00</text>
<line x1="398.3" y1="1006.35" x2="402.1" y2="1006.35" stroke="#111111" stroke-width="1.2"/>
<text x="394.7" y="1012.65" font-size="16" fill="#111" text-anchor="end" textLength="36.1" lengthAdjust="spacingAndGlyphs" stroke="#111" stroke-width="0.22">-0.25</text>
<line x1="459.7" y1="1018" x2="459.7" y2="1021.7" stroke="#111111" stroke-width="1.2"/>
<text x="459.7" y="1036.9" font-size="16" fill="#111" text-anchor="middle" textLength="28.8" lengthAdjust="spacingAndGlyphs" stroke="#111" stroke-width="0.22">Low</text>
<line x1="555.2" y1="1018" x2="555.2" y2="1021.7" stroke="#111111" stroke-width="1.2"/>
<text x="555.2" y="1036.9" font-size="16" fill="#111" text-anchor="middle" textLength="32.2" lengthAdjust="spacingAndGlyphs" stroke="#111" stroke-width="0.22">High</text>
<text x="425" y="1066" font-size="21" fill="#111" textLength="153.2" lengthAdjust="spacingAndGlyphs" stroke="#111" stroke-width="0.22">Block contrast</text>
<circle cx="447.5" cy="969.7" r="2.85" fill="rgba(249,165,90,0.5)"/>
<circle cx="454.1" cy="970.8" r="2.85" fill="rgba(249,165,90,0.5)"/>
<circle cx="453" cy="992.7" r="2.85" fill="rgba(249,165,90,0.5)"/>
<circle cx="450.8" cy="996" r="2.85" fill="rgba(249,165,90,0.5)"/>
<circle cx="464.4" cy="1004.3" r="2.85" fill="rgba(123,203,188,0.52)"/>
<circle cx="468.3" cy="979.6" r="2.85" fill="rgba(123,203,188,0.52)"/>
<circle cx="550" cy="957.7" r="2.85" fill="rgba(249,165,90,0.5)"/>
<circle cx="547.1" cy="961.4" r="2.85" fill="rgba(249,165,90,0.5)"/>
<circle cx="544.3" cy="981.1" r="2.85" fill="rgba(249,165,90,0.5)"/>
<circle cx="550" cy="991.2" r="2.85" fill="rgba(249,165,90,0.5)"/>
<circle cx="564.7" cy="963.6" r="2.85" fill="rgba(123,203,188,0.52)"/>
<circle cx="564" cy="993.4" r="2.85" fill="rgba(123,203,188,0.52)"/>
<circle cx="562.5" cy="970.8" r="2.85" fill="rgba(123,203,188,0.52)"/>
<line x1="451.2" y1="980.7" x2="546.7" y2="971.9" stroke="#f9a55a" stroke-width="3"/>
<line x1="468.3" y1="986.1" x2="563.6" y2="975.8" stroke="#7bcbbc" stroke-width="3"/>
<line x1="451.2" y1="974" x2="451.2" y2="988" stroke="#f9a55a" stroke-width="3.2"/>
<line x1="468.3" y1="980" x2="468.3" y2="992" stroke="#7bcbbc" stroke-width="3.2"/>
<line x1="546.7" y1="965" x2="546.7" y2="979" stroke="#f9a55a" stroke-width="3.2"/>
<line x1="563.6" y1="969" x2="563.6" y2="983" stroke="#7bcbbc" stroke-width="3.2"/>
<circle cx="451.2" cy="980.7" r="6.4" fill="#f9a55a"/>
<circle cx="468.3" cy="986.1" r="6.4" fill="#7bcbbc"/>
<circle cx="546.7" cy="971.9" r="6.4" fill="#f9a55a"/>
<circle cx="563.6" cy="975.8" r="6.4" fill="#7bcbbc"/>
<path d="M507.5 815.3L507.5 827.7M501.86 818.25L513.14 824.75M501.86 824.75L513.14 818.25" stroke="#444" stroke-width="1.6" stroke-linecap="round" fill="none"/>
<line x1="491.5" y1="831.6" x2="524" y2="831.6" stroke="#444" stroke-width="1.7"/>
</svg></body></html>
